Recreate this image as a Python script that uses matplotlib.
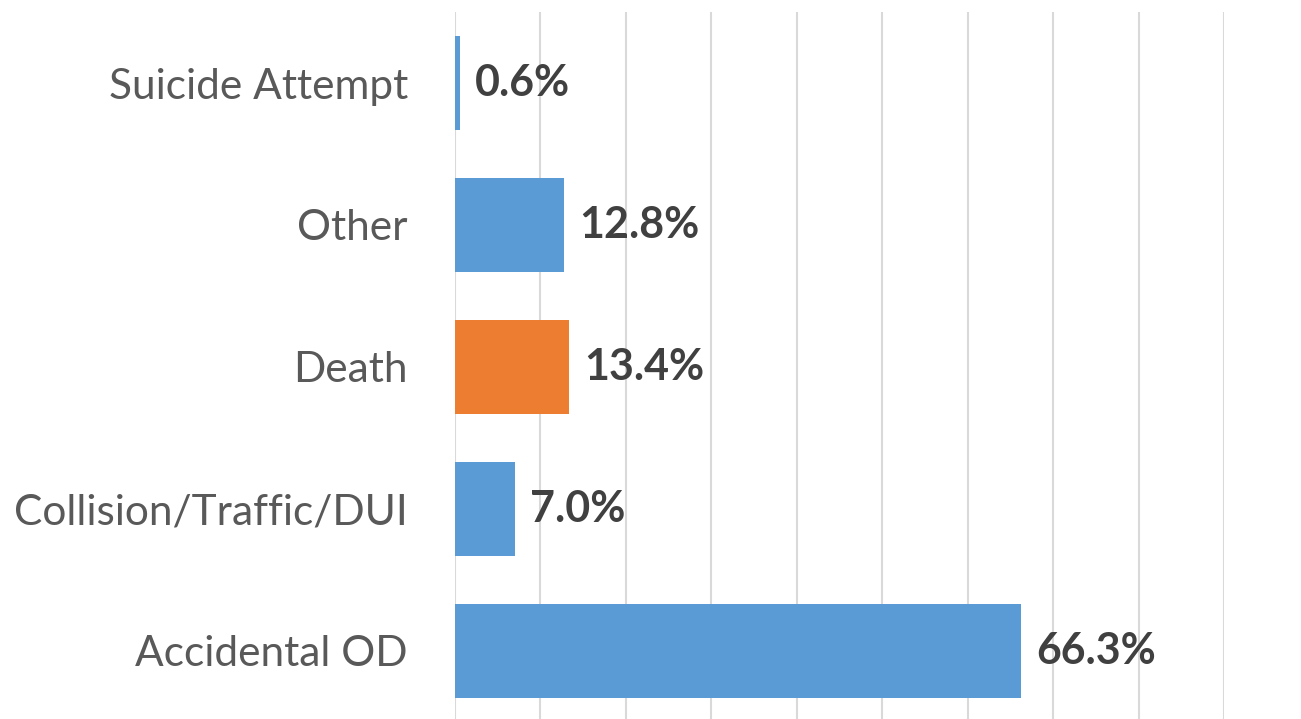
import matplotlib
matplotlib.use("Agg")
import matplotlib.pyplot as plt
import numpy as np

# data (percent of cases)
categories = ["Accidental OD", "Collision/Traffic/DUI", "Death", "Other", "Suicide Attempt"]
values = [66.3, 7.0, 13.4, 12.8, 0.6]
bar_colors = ["#5B9BD5", "#5B9BD5", "#ED7D31", "#5B9BD5", "#5B9BD5"]

plt.rcParams['font.family'] = ['Lato', 'DejaVu Sans']

fig = plt.figure(figsize=(13.01, 7.19), dpi=100)
ax = fig.add_axes([455 / 1301, -3 / 719, (1224 - 455) / 1301, 710 / 719])

y = np.arange(len(categories))
ax.barh(y, values, height=0.66, color=bar_colors, zorder=3)

ax.set_xlim(0, 90)
ax.set_ylim(-0.5, len(categories) - 0.5)
ax.set_xticks(np.arange(0, 91, 10))
ax.set_xticklabels([])
ax.tick_params(axis='x', length=0)
ax.tick_params(axis='y', length=0, pad=34)
ax.grid(axis='x', color='#D9D9D9', linewidth=1.5, zorder=0)

ax.set_yticks(y)
ax.set_yticklabels(categories, fontsize=30.5, color='#595959')

for yi, v in zip(y, values):
    ax.annotate(f"{v:.1f}%", xy=(v, yi), xytext=(15, 0), textcoords='offset pixels',
                va='center', ha='left', fontsize=31, fontweight='bold', color='#404040')

for s in ax.spines.values():
    s.set_visible(False)

fig.savefig("out.png", dpi=100)
